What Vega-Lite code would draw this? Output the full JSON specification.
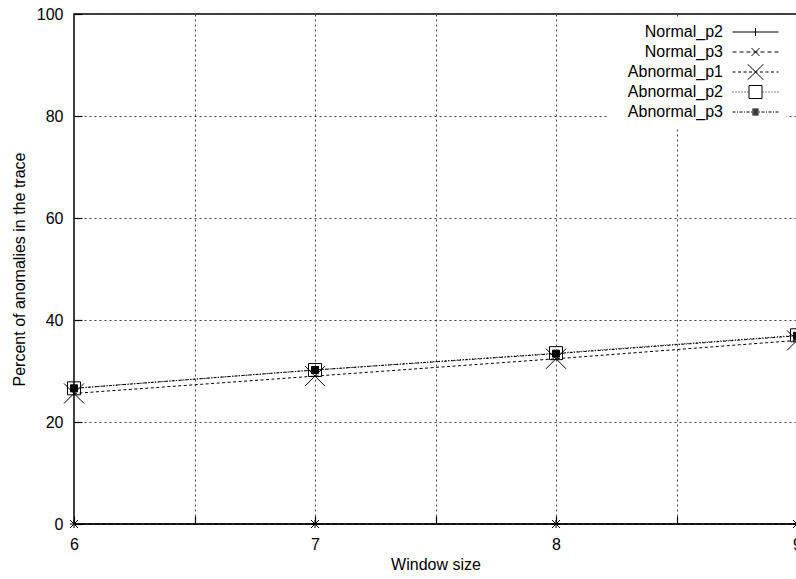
{
  "$schema": "https://vega.github.io/schema/vega-lite/v6.json",
  "width": 723,
  "height": 510,
  "autosize": {"type": "none"},
  "padding": {"left": 74, "top": 14, "right": 0, "bottom": 55},
  "background": "white",
  "config": {
    "font": "Liberation Sans",
    "view": {"stroke": "black", "strokeWidth": 1.5},
    "axis": {
      "labelFont": "Liberation Sans",
      "labelFontSize": 16,
      "labelColor": "black",
      "labelFlush": false,
      "labelOverlap": false,
      "titleFont": "Liberation Sans",
      "titleFontSize": 16,
      "titleFontWeight": "normal",
      "titleColor": "black",
      "tickColor": "black",
      "tickWidth": 1.2,
      "gridColor": "#444444",
      "gridDash": [2, 3],
      "gridWidth": 1,
      "gridOpacity": 1,
      "domain": false
    }
  },
  "data": {
    "values": [
      {"series": "Normal_p2", "window": 6, "percent": 0},
      {"series": "Normal_p2", "window": 7, "percent": 0},
      {"series": "Normal_p2", "window": 8, "percent": 0},
      {"series": "Normal_p2", "window": 9, "percent": 0},
      {"series": "Normal_p3", "window": 6, "percent": 0},
      {"series": "Normal_p3", "window": 7, "percent": 0},
      {"series": "Normal_p3", "window": 8, "percent": 0},
      {"series": "Normal_p3", "window": 9, "percent": 0},
      {"series": "Abnormal_p1", "window": 6, "percent": 25.6},
      {"series": "Abnormal_p1", "window": 7, "percent": 29.0},
      {"series": "Abnormal_p1", "window": 8, "percent": 32.4},
      {"series": "Abnormal_p1", "window": 9, "percent": 36.0},
      {"series": "Abnormal_p2", "window": 6, "percent": 26.6},
      {"series": "Abnormal_p2", "window": 7, "percent": 30.2},
      {"series": "Abnormal_p2", "window": 8, "percent": 33.5},
      {"series": "Abnormal_p2", "window": 9, "percent": 37.0},
      {"series": "Abnormal_p3", "window": 6, "percent": 26.6},
      {"series": "Abnormal_p3", "window": 7, "percent": 30.2},
      {"series": "Abnormal_p3", "window": 8, "percent": 33.4},
      {"series": "Abnormal_p3", "window": 9, "percent": 36.9}
    ]
  },
  "encoding": {
    "x": {
      "field": "window",
      "type": "quantitative",
      "scale": {"domain": [6, 9], "nice": false, "zero": false},
      "axis": {
        "values": [6, 6.5, 7, 7.5, 8, 8.5, 9],
        "labelExpr": "datum.value % 1 === 0 ? format(datum.value, 'd') : ''",
        "tickSize": -8,
        "labelPadding": 20,
        "grid": true,
        "title": "Window size",
        "titlePadding": 4
      }
    },
    "y": {
      "field": "percent",
      "type": "quantitative",
      "scale": {"domain": [0, 100], "nice": false},
      "axis": {
        "values": [0, 20, 40, 60, 80, 100],
        "tickSize": -8,
        "labelPadding": 19,
        "grid": true,
        "title": "Percent of anomalies in the trace",
        "titlePadding": 9
      }
    }
  },
  "resolve": {
    "scale": {"shape": "independent"},
    "legend": {"shape": "independent"}
  },
  "layer": [
    {
      "mark": {"type": "line", "color": "black", "strokeWidth": 1},
      "encoding": {
        "strokeDash": {
          "field": "series",
          "type": "nominal",
          "scale": {
            "domain": ["Abnormal_p3", "Normal_p2", "Normal_p3", "Abnormal_p1", "Abnormal_p2"],
            "range": [[3, 1.5, 1, 1.5], [1, 0], [4, 3], [3, 2.5], [1, 2]]
          },
          "legend": null
        }
      }
    },
    {
      "mark": {"type": "point", "stroke": "black", "strokeWidth": 1, "opacity": 1},
      "encoding": {
        "shape": {
          "field": "series",
          "type": "nominal",
          "scale": {
            "domain": ["Abnormal_p1", "Abnormal_p2", "Abnormal_p3", "Normal_p2", "Normal_p3"],
            "range": [
              "M-1,-1L1,1M-1,1L1,-1",
              "square",
              "square",
              "M-1,0L1,0M0,-1L0,1",
              "M-1,-1L1,1M-1,1L1,-1"
            ]
          },
          "legend": null
        },
        "size": {
          "field": "series",
          "type": "ordinal",
          "scale": {
            "type": "ordinal",
            "domain": ["Abnormal_p2", "Abnormal_p3", "Normal_p2", "Normal_p3", "Abnormal_p1"],
            "range": [169, 49, 64, 64, 400]
          },
          "legend": null
        },
        "fill": {
          "field": "series",
          "type": "nominal",
          "scale": {
            "domain": ["Abnormal_p1", "Abnormal_p2", "Abnormal_p3", "Normal_p2", "Normal_p3"],
            "range": ["transparent", "transparent", "black", "transparent", "transparent"]
          },
          "legend": null
        }
      }
    },
    {
      "description": "Key layer: its points are invisible, its shape scale holds the line-and-marker samples shown in the legend.",
      "mark": {"type": "point", "stroke": "black", "strokeWidth": 1, "opacity": 0, "filled": false},
      "encoding": {
        "shape": {
          "field": "series",
          "type": "nominal",
          "scale": {
            "domain": ["Normal_p2", "Normal_p3", "Abnormal_p1", "Abnormal_p2", "Abnormal_p3"],
            "range": [
              "M-4.6,0L4.6,0M0,-0.8L0,0.8M-28.6,0M0,-1.55M0,1.55",
              "M-4.6,0L-3.8,0M-3.2,0L-2.4,0M-1.8,0L-1,0M-0.4,0L0.4,0M1,0L1.8,0M2.4,0L3.2,0M3.8,0L4.6,0M-0.8,-0.8L0.8,0.8M-0.8,0.8L0.8,-0.8M-28.6,0M0,-1.55M0,1.55",
              "M-4.6,0L-4,0M-3.5,0L-2.9,0M-2.4,0L-1.8,0M-1.3,0L-0.7,0M-0.2,0L0.4,0M0.9,0L1.5,0M2,0L2.6,0M3.1,0L3.7,0M4.2,0L4.6,0M-1.55,-1.55L1.55,1.55M-1.55,1.55L1.55,-1.55M-28.6,0M0,-1.55M0,1.55",
              "M-4.6,0L-4.4,0M-4,0L-3.8,0M-3.4,0L-3.2,0M-2.8,0L-2.6,0M-2.2,0L-2,0M-1.6,0L-1.4,0M1.4,0L1.6,0M2,0L2.2,0M2.6,0L2.8,0M3.2,0L3.4,0M3.8,0L4,0M4.4,0L4.6,0M-1.3,-1.3L1.3,-1.3L1.3,1.3L-1.3,1.3Z M-28.6,0M0,-1.55M0,1.55",
              "M-4.6,0L-4,0M-3.7,0L-3.5,0M-3.2,0L-2.6,0M-2.3,0L-2.1,0M-1.8,0L-1.2,0M-0.9,0L-0.7,0M0.7,0L0.9,0M1.2,0L1.8,0M2.1,0L2.3,0M2.6,0L3.2,0M3.5,0L3.7,0M4,0L4.6,0M-0.62,-0.6L0.62,-0.6M-0.62,-0.4L0.62,-0.4M-0.62,-0.2L0.62,-0.2M-0.62,0L0.62,0M-0.62,0.2L0.62,0.2M-0.62,0.4L0.62,0.4M-0.62,0.6L0.62,0.6M-28.6,0M0,-1.55M0,1.55"
            ]
          },
          "legend": {
            "title": null,
            "orient": "none",
            "direction": "vertical",
            "legendX": 533,
            "legendY": 5,
            "padding": 5,
            "fillColor": "white",
            "rowPadding": 0,
            "labelAlign": "right",
            "labelOffset": -40.5,
            "symbolOffset": 135.5,
            "symbolSize": 100,
            "symbolOpacity": 1,
            "symbolFillColor": "transparent",
            "symbolStrokeColor": "black",
            "symbolStrokeWidth": 1,
            "labelFont": "Liberation Sans",
            "labelFontSize": 16,
            "labelColor": "black",
            "labelLimit": 200
          }
        }
      }
    }
  ]
}
